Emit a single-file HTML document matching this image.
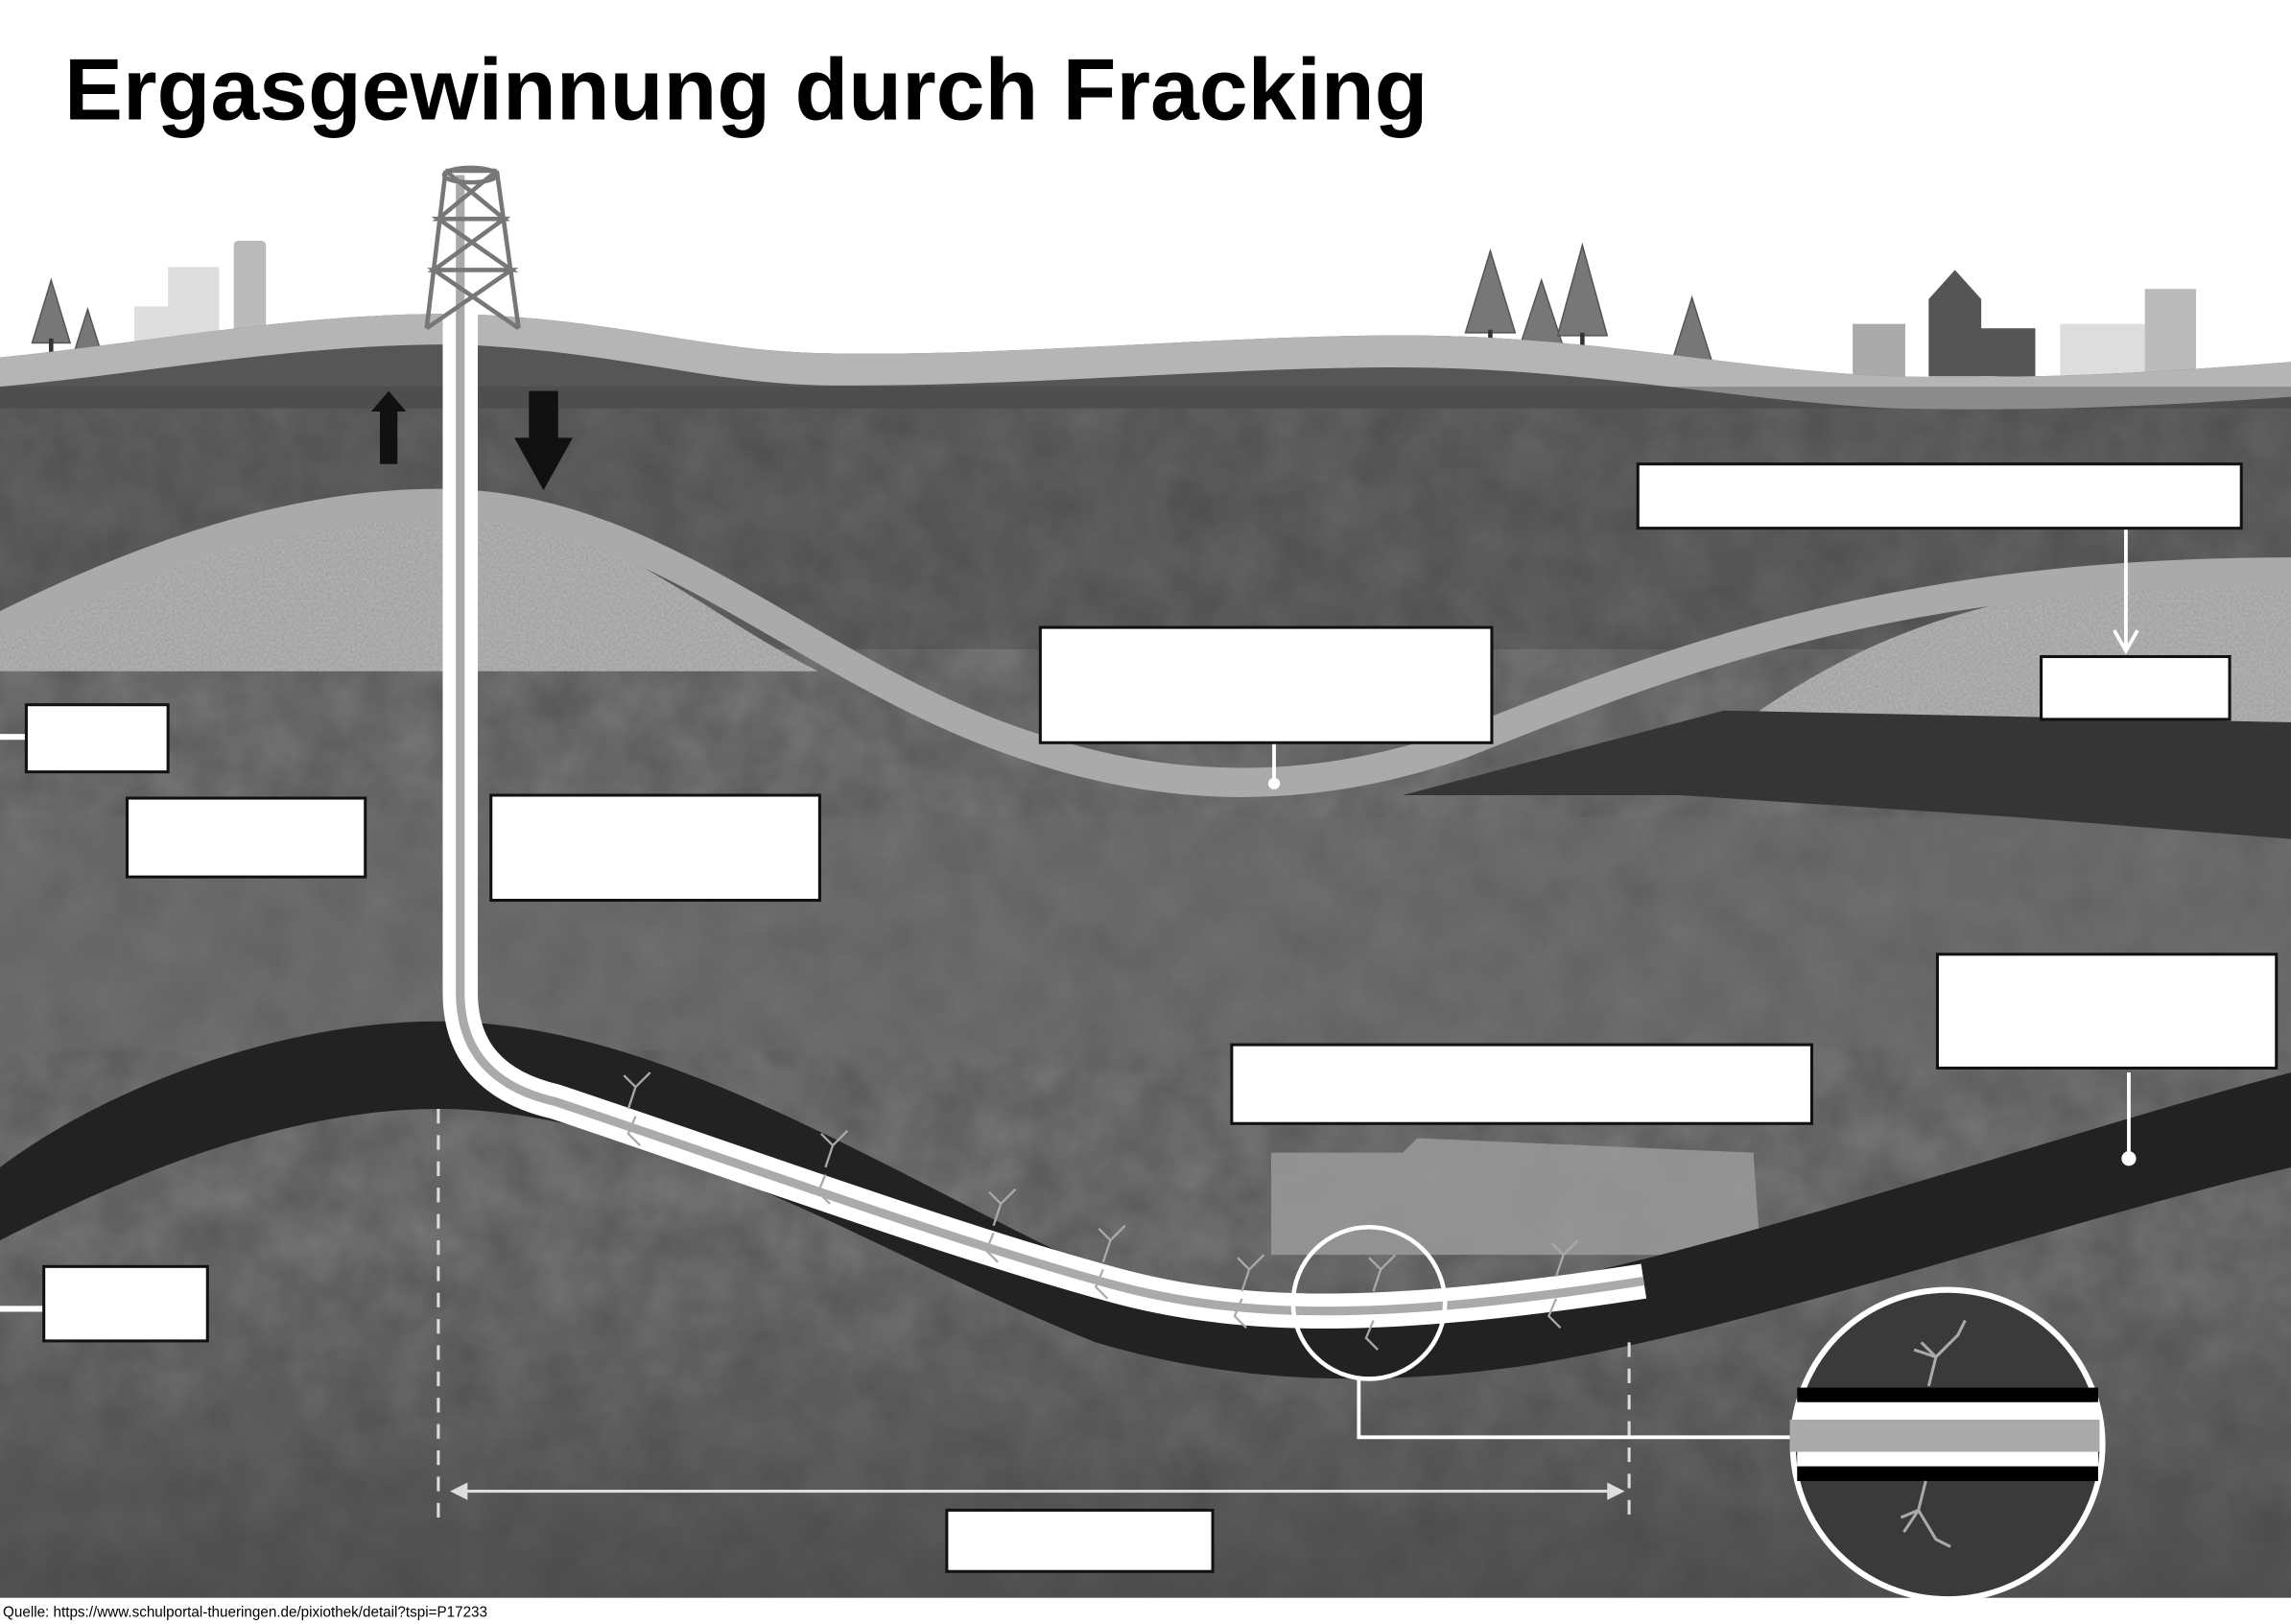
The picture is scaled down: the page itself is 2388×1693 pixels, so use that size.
<!DOCTYPE html>
<html><head><meta charset="utf-8"><style>
html,body{margin:0;padding:0;background:#fff;}
svg{display:block}
</style></head><body>
<svg width="2388" height="1693" viewBox="0 0 1568 1113" preserveAspectRatio="none" xmlns="http://www.w3.org/2000/svg">
<defs>
<filter id="rough"><feTurbulence type="fractalNoise" baseFrequency="0.03" numOctaves="3" seed="3"/><feColorMatrix values="0 0 0 0 0.3  0 0 0 0 0.3  0 0 0 0 0.3  0 0 0 0.55 0"/><feComposite in2="SourceGraphic" operator="in"/></filter>
<filter id="grav"><feTurbulence type="fractalNoise" baseFrequency="0.6" numOctaves="2" seed="5"/><feColorMatrix values="0 0 0 0 0.9  0 0 0 0 0.9  0 0 0 0 0.9  0 0 0 0.35 0"/><feComposite in2="SourceGraphic" operator="in"/></filter>
<linearGradient id="bot" x1="0" y1="0" x2="0" y2="1"><stop offset="0" stop-color="#444" stop-opacity="0"/><stop offset="1" stop-color="#444" stop-opacity="0.7"/></linearGradient>
</defs>
<rect width="1568" height="1113" fill="#fff"/>
<rect x="92" y="210" width="30" height="25" fill="#ddd"/><rect x="115" y="183" width="35" height="52" fill="#ddd"/><rect x="160" y="165" width="22" height="65" fill="#bbb" rx="3"/>
<rect x="1268" y="222" width="36" height="38" fill="#aaa"/><polygon points="1320,205 1338,185 1356,205 1356,258 1320,258" fill="#555"/><rect x="1355" y="225" width="38" height="33" fill="#555"/><rect x="1410" y="222" width="68" height="38" fill="#ddd"/><rect x="1468" y="198" width="35" height="60" fill="#bbb"/>
<g fill="#777" stroke="#555"><polygon points="35,192 22,235 48,235"/><polygon points="60,212 50,244 70,244"/><polygon points="1020,172 1003,228 1037,228"/><polygon points="1055,192 1040,238 1070,238"/><polygon points="1083,168 1066,230 1100,230"/><polygon points="1158,204 1143,252 1173,252"/></g>
<g stroke="#333" stroke-width="3"><line x1="35" y1="232" x2="35" y2="255"/><line x1="60" y1="242" x2="60" y2="255"/><line x1="1020" y1="226" x2="1020" y2="255"/><line x1="1055" y1="236" x2="1055" y2="255"/><line x1="1083" y1="228" x2="1083" y2="258"/><line x1="1158" y1="250" x2="1158" y2="268"/></g>
<path d="M0,245 C100,235 200,215 310,215 C420,218 480,240 560,242 C700,245 850,228 980,230 C1100,232 1200,255 1300,258 C1400,260 1480,255 1568,248 L1568,1095 L0,1095 Z" fill="#565656"/>
<path d="M0,245 C100,235 200,215 310,215 C420,218 480,240 560,242 C700,245 850,228 980,230 C1100,232 1200,255 1300,258 C1400,260 1480,255 1568,248 L1568,272 C1480,278 1400,282 1300,280 C1200,276 1100,255 980,252 C850,250 700,266 560,264 C480,262 420,240 310,236 C200,236 100,256 0,265 Z" fill="#b5b5b5"/>
<rect y="280" width="1568" height="815" fill="#555" filter="url(#rough)"/>
<rect y="265" width="1568" height="180" fill="#3e3e3e" opacity="0.35"/>
<rect y="560" width="1568" height="160" fill="#6a6a6a" opacity="0.5"/>
<rect y="850" width="1568" height="245" fill="url(#bot)"/>
<path d="M0,425 C100,380 200,345 300,345 C400,345 480,420 560,460 L0,460 Z" fill="#9a9a9a"/>
<path d="M1200,490 C1300,420 1400,395 1568,395 L1568,495 Z" fill="#9a9a9a"/>
<path d="M0,425 C100,380 200,345 300,345 C400,345 480,420 560,460 L0,460 Z M1200,490 C1300,420 1400,395 1568,395 L1568,495 Z" fill="#999" filter="url(#grav)"/>
<path d="M0,430 C100,380 200,345 300,345 C450,345 550,460 700,510 C800,545 900,545 1000,510 C1150,450 1300,392 1568,392" fill="none" stroke="#aaa" stroke-width="20"/>
<polygon points="960,545 1180,487 1568,495 1568,575 1380,560 1150,545" fill="#353535"/>
<path d="M870,790 L960,790 L970,780 L1200,790 L1205,860 L870,860 Z" fill="#9a9a9a" opacity="0.85"/>
<path d="M0,800 C80,740 200,700 300,700 C450,700 600,800 750,870 C850,905 950,900 1050,880 C1200,850 1400,780 1568,735 L1568,800 C1400,840 1200,910 1050,935 C950,950 850,950 750,920 C600,860 450,760 300,760 C180,760 60,820 0,850 Z" fill="#222"/>
<path d="M315,120 L315,680 Q315,740 380,755 C500,795 650,850 760,880 C850,905 950,905 1125,878" fill="none" stroke="#fff" stroke-width="24"/>
<path d="M315,120 L315,680 Q315,740 380,755 C500,795 650,850 760,880 C850,905 950,905 1125,878" fill="none" stroke="#aaa" stroke-width="6"/>
<g stroke="#aaa" stroke-width="1.5" fill="none">
<path d="M430,760 l5,-15 l-8,-8 m8,8 l10,-10 M435,765 l-5,12 l8,8"/><path d="M565,800 l5,-15 l-8,-8 m8,8 l10,-10 M565,805 l-5,12 l8,8"/><path d="M680,840 l5,-15 l-8,-8 m8,8 l10,-10 M680,845 l-5,12 l8,8"/><path d="M755,865 l5,-15 l-8,-8 m8,8 l10,-10 M755,870 l-5,12 l8,8"/><path d="M850,885 l5,-15 l-8,-8 m8,8 l10,-10 M850,890 l-5,12 l8,8"/><path d="M940,885 l5,-15 l-8,-8 m8,8 l10,-10 M940,905 l-5,12 l8,8"/><path d="M1065,875 l5,-15 l-8,-8 m8,8 l10,-10 M1065,890 l-5,12 l8,8"/>
</g>
<g stroke="#777" stroke-width="3" fill="none"><path d="M305,117 L292,225 M340,117 L355,225 M305,117 L340,117 M300,150 L345,150 M297,185 L350,185 M305,117 L345,150 L300,150 L350,185 L297,185 L355,225 M340,117 L300,150 L345,150 L297,185 L350,185 L292,225"/></g>
<ellipse cx="322" cy="120" rx="18" ry="5" fill="none" stroke="#777" stroke-width="3"/>
<polygon points="266,268 278,282 272,282 272,318 260,318 260,282 254,282" fill="#111"/>
<polygon points="362,268 382,268 382,300 392,300 372,336 352,300 362,300" fill="#111"/>
<g stroke="#ddd" stroke-width="2" stroke-dasharray="10,8"><line x1="300" y1="760" x2="300" y2="1045"/><line x1="1115" y1="920" x2="1115" y2="1045"/></g>
<line x1="312" y1="1022" x2="1108" y2="1022" stroke="#ddd" stroke-width="2"/>
<polygon points="308,1022 320,1016 320,1028" fill="#ddd"/><polygon points="1112,1022 1100,1016 1100,1028" fill="#ddd"/>
<g stroke="#fff" stroke-width="2.5" fill="none">
<line x1="1455" y1="362" x2="1455" y2="444"/><path d="M1447,432 L1455,446 L1463,432"/>
<line x1="872" y1="509" x2="872" y2="535"/><line x1="1457" y1="735" x2="1457" y2="792"/>
<line x1="0" y1="505" x2="18" y2="505" stroke-width="4"/><line x1="0" y1="897" x2="30" y2="897" stroke-width="4"/>
<circle cx="937" cy="893" r="52" stroke-width="3"/>
<path d="M930,945 L930,985 L1225,985"/>
</g>
<circle cx="872" cy="537" r="4" fill="#fff"/><circle cx="1457" cy="794" r="5" fill="#fff"/>
<circle cx="1333" cy="990" r="106" fill="#3a3a3a" stroke="#fff" stroke-width="4"/>
<rect x="1230" y="951" width="206" height="10" fill="#000"/>
<rect x="1230" y="961" width="206" height="12" fill="#fff"/><rect x="1225" y="973" width="212" height="22" fill="#aaa"/><rect x="1230" y="995" width="206" height="10" fill="#fff"/>
<rect x="1230" y="1005" width="206" height="10" fill="#000"/>
<g stroke="#aaa" stroke-width="2" fill="none"><path d="M1320,950 l5,-20 l-10,-10 m10,10 l15,-15 l5,-10 M1325,930 l-15,-5"/><path d="M1318,1015 l-5,20 l-10,15 m10,-15 l12,20 l10,5 M1313,1035 l-12,5"/></g>
<g fill="#fff" stroke="#111" stroke-width="2">
<rect x="1121" y="318" width="413" height="44"/><rect x="712" y="430" width="309" height="79"/><rect x="1397" y="450" width="129" height="43"/>
<rect x="18" y="483" width="97" height="46"/><rect x="87" y="547" width="163" height="54"/><rect x="336" y="545" width="225" height="72"/>
<rect x="1326" y="654" width="232" height="78"/><rect x="843" y="716" width="397" height="54"/><rect x="30" y="868" width="112" height="51"/>
<rect x="648" y="1035" width="182" height="42"/>
</g>
<text x="44" y="82" font-family="Liberation Sans, sans-serif" font-weight="bold" font-size="60" fill="#000">Ergasgewinnung durch Fracking</text>
<text x="2" y="1108" font-family="Liberation Sans, sans-serif" font-size="10" fill="#000">Quelle: https://www.schulportal-thueringen.de/pixiothek/detail?tspi=P17233</text>
</svg>
</body></html>
